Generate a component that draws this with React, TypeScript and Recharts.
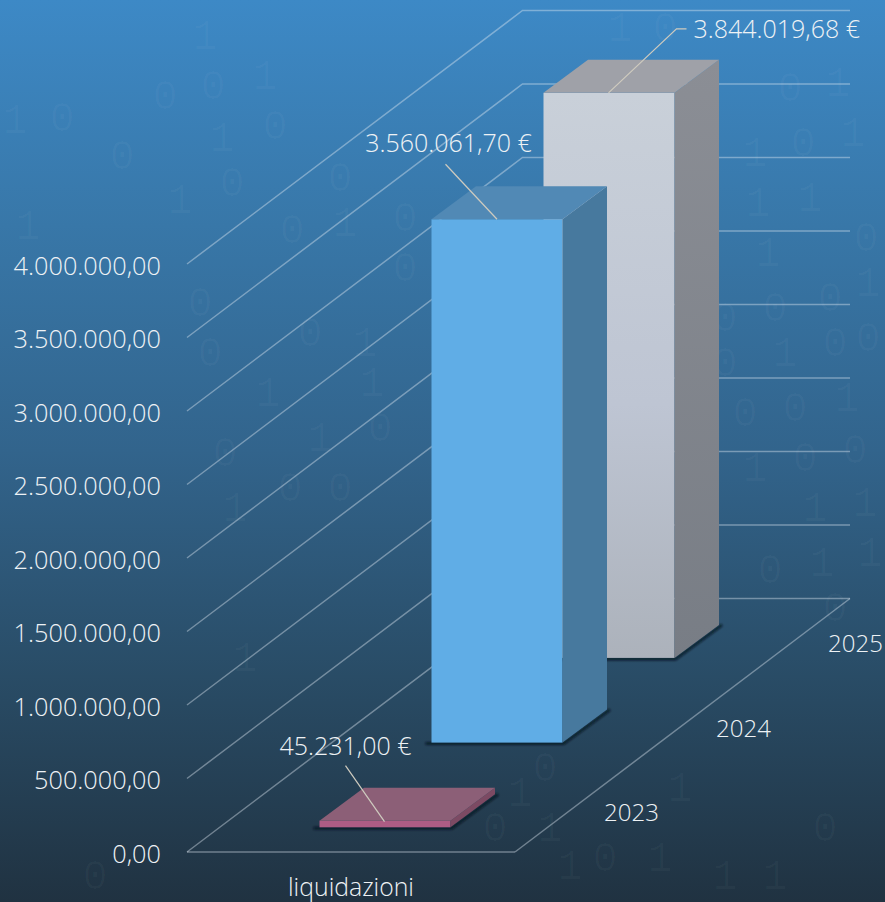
import React from "react";
import { BarChart, Bar, XAxis, YAxis, CartesianGrid } from "recharts";

const categories = ["liquidazioni"];
const years = ["2023", "2024", "2025"];
const values2023 = [45231.0];
const values2024 = [3560061.7];
const values2025 = [3844019.68];
const yTicks = [0, 500000, 1000000, 1500000, 2000000, 2500000, 3000000, 3500000, 4000000];

const data = categories.map((c, i) => ({
  category: c,
  "2023": values2023[i],
  "2024": values2024[i],
  "2025": values2025[i],
}));

const FONT = "'Open Sans', sans-serif";
const TEXT = "#eef2f5";
const LINE = "rgba(222,232,240,0.42)";
const LEADER = "#cfcbbf";

const WALL_DX = 335.5, WALL_DY = 253.5, BACK_W = 327.5;
const DEPTH_DX = 44.5, DEPTH_DY = 33;
const SLOT_DX = 112, SLOT_DY = 84.7, START_DX = 33.5, START_DY = 24.7;

const money = (v: number) =>
  v.toLocaleString("it-IT", { minimumFractionDigits: 2, maximumFractionDigits: 2, useGrouping: "always" as any });

const faces: Record<string, { front: string; side: string; top: string }> = {
  "2023": { front: "#ad5d84", side: "#7c4a63", top: "#8c5f77" },
  "2024": { front: "#60ade6", side: "#47799e", top: "#5189b5" },
  "2025": { front: "url(#front2025)", side: "url(#side2025)", top: "#9fa1a8" },
};

const leaders: Record<string, { points: number[][]; tx: number; ty: number; anchor: string }> = {
  "2023": { points: [[26, -55], [65, 1]], tx: 26, ty: -76, anchor: "middle" },
  "2024": { points: [[14, -55], [65.5, 0]], tx: 17, ty: -77, anchor: "middle" },
  "2025": { points: [[65, 0], [133, -64], [143, -64]], tx: 150, ty: -65, anchor: "start" },
};

const poly = (pts: number[][]) => pts.map((p) => p.join(",")).join(" ");

const barShape = (slot: number, year: string) => (p: any) => {
  const dx = START_DX + slot * SLOT_DX;
  const dy = -START_DY - slot * SLOT_DY;
  const x = p.x + dx, y = p.y + dy, w = p.width, h = p.height;
  const f = faces[year];
  return (
    <g>
      <polyline
        points={poly([[x - 6, y + h + 1], [x + w + 1, y + h + 1], [x + w + DEPTH_DX + 3, y + h - DEPTH_DY]])}
        fill="none" stroke="rgba(8,18,28,0.75)" strokeWidth={3} filter="url(#soft)"
      />
      <rect x={x} y={y} width={w} height={h} fill={f.front} />
      <polygon points={poly([[x + w, y], [x + w + DEPTH_DX, y - DEPTH_DY], [x + w + DEPTH_DX, y + h - DEPTH_DY], [x + w, y + h]])} fill={f.side} />
      <polygon points={poly([[x, y], [x + DEPTH_DX, y - DEPTH_DY], [x + w + DEPTH_DX, y - DEPTH_DY], [x + w, y]])} fill={f.top} />
    </g>
  );
};

const barLabel = (slot: number, year: string) => (p: any) => {
  const dx = START_DX + slot * SLOT_DX;
  const dy = -START_DY - slot * SLOT_DY;
  const x = p.x + dx, y = p.y + dy, w = p.width, h = p.height;
  const l = leaders[year];
  return (
    <g>
      <polyline points={poly(l.points.map(([a, b]) => [x + a, y + b]))} fill="none" stroke={LEADER} strokeWidth={1.2} />
      <text x={x + l.tx} y={y + l.ty} textAnchor={l.anchor} dominantBaseline="central" fontFamily={FONT} fontWeight={300} fontSize={25} fill={TEXT}>
        {money(p.value) + " €"}
      </text>
      <text x={x + w / 2 + 246.5} y={y + h - 15.5} textAnchor="middle" dominantBaseline="central" fontFamily={FONT} fontWeight={300} fontSize={24} fill={TEXT}>
        {year}
      </text>
    </g>
  );
};

const gridLine = (p: any) => {
  const { x1, y1, x2 } = p;
  const isFloor = Math.abs(y1 - 852) < 1;
  const cx = x1 + WALL_DX, cy = y1 - WALL_DY;
  return (
    <g key={p.key}>
      <polyline points={poly([[x1, y1], [cx, cy], [cx + BACK_W, cy]])} fill="none" stroke={LINE} strokeWidth={1.5} />
      {isFloor && <line x1={x2} y1={y1} x2={cx + BACK_W} y2={cy} stroke={LINE} strokeWidth={1.5} />}
    </g>
  );
};

const bgDigits: [number, number, string][] = [
  [205, 38, "1"], [213, 88, "0"], [265, 78, "1"], [165, 98, "0"], [15, 122, "1"], [62, 120, "0"], [122, 158, "0"],
  [222, 140, "1"], [275, 128, "0"], [180, 202, "1"], [232, 185, "0"], [292, 232, "0"], [340, 180, "0"], [345, 225, "1"],
  [28, 228, "1"], [405, 220, "0"], [200, 305, "0"],
  [210, 355, "0"], [310, 335, "0"], [365, 345, "1"], [405, 270, "0"], [372, 385, "1"], [320, 440, "1"],
  [380, 430, "0"], [268, 395, "1"], [225, 455, "0"], [235, 510, "1"], [290, 490, "0"],
  [340, 490, "0"], [620, 30, "1"], [665, 30, "0"], [790, 90, "0"], [838, 85, "1"],
  [853, 135, "1"], [803, 145, "0"], [755, 155, "1"], [758, 205, "1"], [810, 200, "1"], [866, 240, "0"], [768, 255, "1"],
  [775, 310, "0"], [725, 320, "0"], [830, 300, "0"], [868, 285, "1"], [725, 365, "0"], [785, 355, "1"], [835, 345, "0"],
  [868, 340, "0"], [745, 415, "0"], [795, 410, "0"], [847, 400, "1"], [855, 452, "0"], [755, 470, "1"], [805, 460, "0"],
  [815, 510, "1"], [865, 505, "1"], [770, 572, "0"], [822, 565, "1"], [870, 555, "1"], [835, 610, "0"], [545, 770, "0"],
  [520, 795, "1"], [680, 790, "1"], [495, 830, "0"], [550, 830, "1"], [825, 830, "0"], [570, 868, "1"], [605, 860, "0"],
  [660, 860, "1"], [775, 878, "1"], [725, 878, "1"], [245, 660, "1"], [95, 878, "0"],
];

export default function App() {
  return (
    <div
      style={{
        position: "absolute", left: 0, top: 0, width: 885, height: 902, overflow: "hidden",
        background: "linear-gradient(180deg,#3d89c6 0%,#3877a8 25%,#32648c 50%,#294c66 75%,#203241 100%)",
      }}
    >
      {bgDigits.map(([x, y, d], i) => (
        <span
          key={i}
          style={{
            position: "absolute", left: x, top: y, transform: "translate(-50%,-50%)",
            fontFamily: "'Liberation Mono', monospace", fontSize: 42, lineHeight: 1,
            color: "rgba(255,255,255,0.026)",
          }}
        >
          {d}
        </span>
      ))}
      <div style={{ position: "absolute", left: 0, top: 0 }}>
        <BarChart
          width={885}
          height={902}
          data={data}
          margin={{ top: 264, right: 370, bottom: 0, left: 0 }}
          barSize={131}
          barGap={-131}
          style={{ fontFamily: FONT }}
        >
          <defs>
            <linearGradient id="front2025" x1="0" y1="0" x2="0" y2="1">
              <stop offset="0%" stopColor="#c9d0d9" />
              <stop offset="55%" stopColor="#bec5d3" />
              <stop offset="100%" stopColor="#acb2bb" />
            </linearGradient>
            <linearGradient id="side2025" x1="0" y1="0" x2="0" y2="1">
              <stop offset="0%" stopColor="#8b8e95" />
              <stop offset="100%" stopColor="#787d85" />
            </linearGradient>
            <filter id="soft" x="-10%" y="-10%" width="120%" height="120%">
              <feGaussianBlur stdDeviation="1.2" />
            </filter>
          </defs>
          <CartesianGrid vertical={false} horizontal={gridLine} />
          <XAxis
            dataKey="category"
            height={50}
            axisLine={{ stroke: LINE, strokeWidth: 1.5 }}
            tickLine={false}
            tickMargin={20}
            tick={{ fill: TEXT, fontSize: 24.8, fontWeight: 300, fontFamily: FONT }}
          />
          <YAxis
            width={187}
            domain={[0, 4000000]}
            ticks={yTicks}
            axisLine={false}
            tickLine={false}
            tickSize={0}
            tickMargin={26}
            tickFormatter={money}
            tick={{ fill: TEXT, fontSize: 25.3, fontWeight: 300, fontFamily: FONT, dy: 2 }}
          />
          {[2, 1, 0].map((slot) => (
            <Bar
              key={years[slot]}
              dataKey={years[slot]}
              name={years[slot]}
              isAnimationActive={false}
              shape={barShape(slot, years[slot])}
              label={barLabel(slot, years[slot])}
            />
          ))}
        </BarChart>
      </div>
    </div>
  );
}
